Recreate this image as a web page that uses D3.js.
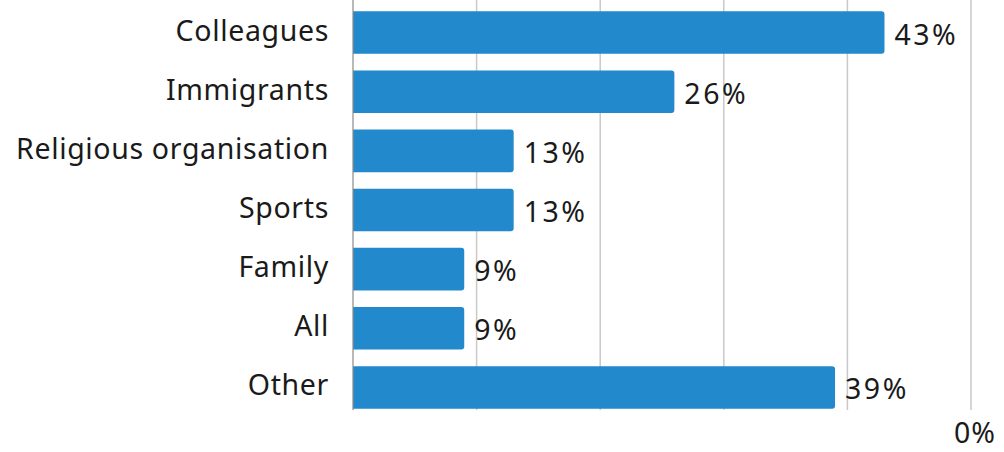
<!DOCTYPE html>
<html>
<head>
<meta charset="utf-8">
<script src="https://cdn.jsdelivr.net/npm/d3@7"></script>
<style>
  html, body { margin: 0; padding: 0; background: #fff; }
  svg { display: block; }
  text { font-family: "Noto Sans", "Open Sans", sans-serif; fill: #1a1a1a; font-variant-ligatures: none; }
</style>
</head>
<body>
<svg id="chart" width="1004" height="452"></svg>
<script>
// Share of respondents by group
const categories = ["Colleagues", "Immigrants", "Religious organisation", "Sports", "Family", "All", "Other"];
const values = [43, 26, 13, 13, 9, 9, 39];
const gridTicks = [10, 20, 30, 40, 50];
const axisTickLabels = [{ value: 50, text: "0%" }];

const left = 353, right = 971, plotTop = 3, plotBottom = 417, gridBottom = 410;
const fontSize = 28.5;

const svg = d3.select("#chart");

const x = d3.scaleLinear().domain([0, 50]).range([left, right]);
const y = d3.scaleBand().domain(categories).range([plotTop, plotBottom])
  .paddingInner(0.28).paddingOuter(0.14);

// vertical gridlines
svg.append("g").selectAll("line").data(gridTicks).join("line")
  .attr("x1", d => x(d)).attr("x2", d => x(d))
  .attr("y1", 0).attr("y2", gridBottom)
  .attr("stroke", "#c9c9c9").attr("stroke-width", 1.5);

// bars with rounded right end
const r = 3;
svg.append("g").selectAll("path").data(categories).join("path")
  .attr("fill", "#2189cc")
  .attr("d", (c, i) => {
    const x0 = x(0), x1 = x(values[i]), y0 = y(c), h = y.bandwidth();
    return `M${x0},${y0} H${x1 - r} Q${x1},${y0} ${x1},${y0 + r} V${y0 + h - r} Q${x1},${y0 + h} ${x1 - r},${y0 + h} H${x0} Z`;
  });

// baseline
svg.append("line")
  .attr("x1", x(0)).attr("x2", x(0)).attr("y1", 0).attr("y2", gridBottom)
  .attr("stroke", "#8a8a8a").attr("stroke-width", 1.2);

// category labels
svg.append("g").selectAll("text").data(categories).join("text")
  .attr("x", left - 24)
  .attr("y", c => y(c) + y.bandwidth() / 2 - 2)
  .attr("dy", "0.35em")
  .attr("text-anchor", "end")
  .attr("font-size", fontSize)
  .attr("letter-spacing", 0.65)
  .text(c => c);

// value labels
svg.append("g").selectAll("text").data(categories).join("text")
  .attr("x", (c, i) => x(values[i]) + 10)
  .attr("y", c => y(c) + y.bandwidth() / 2 + 2)
  .attr("dy", "0.35em")
  .attr("font-size", fontSize)
  .attr("letter-spacing", 2.5)
  .text((c, i) => values[i] + "%");

// bottom axis label at the right edge
svg.append("g").selectAll("text").data(axisTickLabels).join("text")
  .attr("x", d => x(d.value) - 17)
  .attr("y", 433)
  .attr("dy", "0.35em")
  .attr("font-size", fontSize)
  .attr("letter-spacing", 1)
  .text(d => d.text);
</script>
</body>
</html>
